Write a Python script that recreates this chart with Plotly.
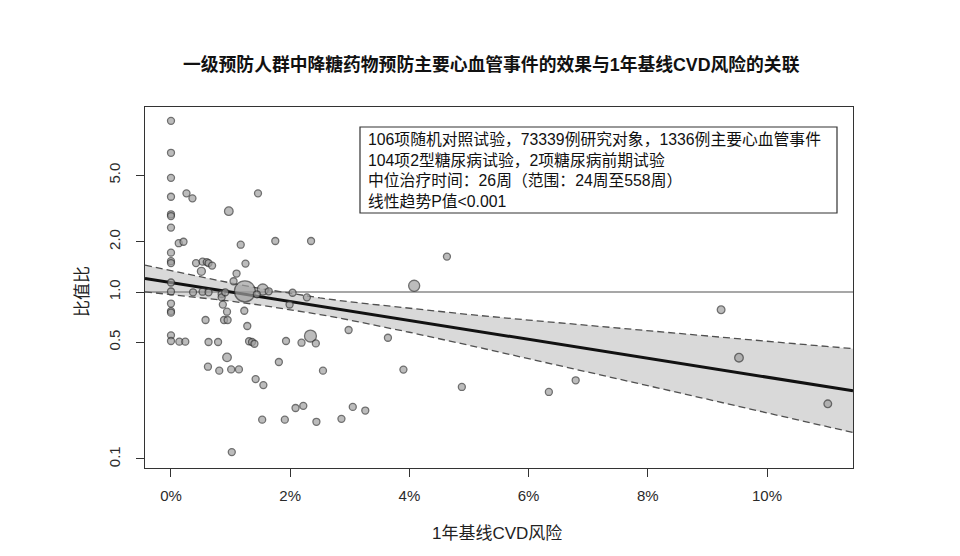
import plotly.graph_objects as go
import numpy as np

# ---- data ----
risk_pct = [0, 0, 0, 0, 0.26, 0.36, 1.46, 0.97, 0, 0, 0, 0.13, 0.21, 1.17, 1.75, 2.35,
            0, 0, 0, 0.42, 0.53, 0.60, 0.63, 0.69, 0.51, 1.25, 1.10, 1.05, 1.24, 1.54,
            0, 0, 0.37, 0.53, 0.63, 0.85, 0.85, 0.91, 1.44, 1.64, 2.04, 2.28,
            0, 0, 0, 0.87, 0.94, 1.23, 0.58, 0.89, 0.95, 1.28, 1.99, 2.98, 2.34, 2.43,
            0, 0, 0.14, 0.24, 0.63, 0.79, 1.31, 1.36, 1.40, 1.93, 2.19, 3.64,
            0.94, 0.62, 0.81, 1.01, 1.14, 1.81, 2.55, 1.42, 1.55, 2.09, 2.22, 3.05, 3.26,
            1.53, 1.91, 2.44, 2.86, 1.02, 3.90, 4.63, 4.08, 4.88, 6.34, 6.79, 9.23, 9.53, 11.02]
odds_ratio = [10.6, 6.82, 4.83, 3.72, 3.90, 3.64, 3.90, 3.05, 2.92, 2.85, 2.43, 1.96, 2.00, 1.92, 2.02, 2.02,
              1.72, 1.53, 1.49, 1.49, 1.52, 1.51, 1.49, 1.44, 1.33, 1.48, 1.29, 1.16, 1.01, 1.035,
              1.14, 1.007, 0.996, 1.004, 0.996, 0.973, 0.929, 0.996, 0.969, 1.01, 0.99, 0.929,
              0.853, 0.769, 0.752, 0.841, 0.762, 0.772, 0.680, 0.680, 0.680, 0.626, 0.842, 0.592, 0.545, 0.492,
              0.550, 0.509, 0.504, 0.504, 0.502, 0.502, 0.507, 0.502, 0.490, 0.509, 0.497, 0.532,
              0.406, 0.357, 0.338, 0.344, 0.344, 0.381, 0.338, 0.301, 0.277, 0.202, 0.208, 0.205, 0.195,
              0.172, 0.172, 0.167, 0.174, 0.110, 0.343, 1.63, 1.09, 0.270, 0.252, 0.296, 0.783, 0.404, 0.214]
trial_weight = [1, 1, 1, 1, 1, 1, 1, 1.5, 1, 1, 1, 1, 1, 1, 1, 1,
                1, 1, 1, 1, 1, 1, 1, 1, 1.3, 1, 1, 1, 9, 2.5,
                1, 1, 1, 1, 1, 1, 1, 1, 1, 1, 1, 1,
                1, 1, 1, 1, 1, 1, 1, 1, 1, 1, 1, 1, 2.9, 1,
                1, 1, 1, 1, 1, 1, 1, 1, 1, 1, 1, 1,
                1.5, 1, 1, 1, 1, 1, 1, 1, 1, 1, 1, 1, 1,
                1, 1, 1, 1, 1, 1, 1, 2.5, 1, 1, 1, 1.2, 1.5, 1.2]

# meta-regression fit (read at the axis edges) and its 95% CI band
fit_x = [-0.436, 11.443]
fit_or = [1.205, 0.256]
ci_x = [-0.436, 0, 0.5, 1, 1.5, 2, 2.5, 3, 4, 5, 6, 7, 8, 9, 10, 11, 11.443]
ci_upper = [1.447, 1.340, 1.230, 1.133, 1.049, 0.980, 0.922, 0.873, 0.796, 0.733,
            0.679, 0.630, 0.586, 0.545, 0.507, 0.472, 0.458]
ci_lower = [1.003, 0.967, 0.925, 0.882, 0.835, 0.786, 0.733, 0.679, 0.574, 0.480,
            0.400, 0.332, 0.275, 0.228, 0.189, 0.156, 0.144]
ref_or = 1.0

x_ticks = [0, 2, 4, 6, 8, 10]
x_tick_labels = ["0%", "2%", "4%", "6%", "8%", "10%"]
y_ticks = [0.1, 0.5, 1.0, 2.0, 5.0]
y_tick_labels = ["0.1", "0.5", "1.0", "2.0", "5.0"]

title_text = "一级预防人群中降糖药物预防主要心血管事件的效果与1年基线CVD风险的关联"
x_label = "1年基线CVD风险"
y_label = "比值比"
info_lines = ["106项随机对照试验，73339例研究对象，1336例主要心血管事件",
              "104项2型糖尿病试验，2项糖尿病前期试验",
              "中位治疗时间：26周（范围：24周至558周）",
              "线性趋势P值<0.001"]

FONT = "Liberation Sans, Arial, Noto Sans CJK SC, sans-serif"
x_range = [fit_x[0], fit_x[1]]
y_range = [-1.054, 1.108]

fig = go.Figure()
# CI band
fig.add_trace(go.Scatter(x=ci_x + ci_x[::-1], y=ci_upper + ci_lower[::-1], fill="toself",
                         fillcolor="#d9d9d9", line=dict(width=0), mode="lines",
                         hoverinfo="skip", showlegend=False))
# reference line at OR = 1
fig.add_trace(go.Scatter(x=x_range, y=[ref_or, ref_or], mode="lines",
                         line=dict(color="#8a8a8a", width=1.6), showlegend=False))
# CI dashed bounds
for arr in (ci_upper, ci_lower):
    fig.add_trace(go.Scatter(x=ci_x, y=arr, mode="lines",
                             line=dict(color="#505050", width=1.3, dash="7px,4px"),
                             showlegend=False))
# fit line
fig.add_trace(go.Scatter(x=fit_x, y=fit_or, mode="lines",
                         line=dict(color="#111111", width=3), showlegend=False))
# trials
sizes = [7 * np.sqrt(w) for w in trial_weight]
fig.add_trace(go.Scatter(x=risk_pct, y=odds_ratio, mode="markers",
                         marker=dict(size=sizes, color="#a0a0a0",
                                     line=dict(color="#333333", width=1.3)),
                         showlegend=False))

# layout geometry (pixels)
L, R, T, B = 145, 853, 107, 468
W, H = 960, 556
def px_x(p):
    return (p - L) / (R - L)
def px_y(p):
    return (B - p) / (B - T)

fig.update_layout(
    width=W, height=H,
    margin=dict(l=L, r=W - R, t=T, b=H - B),
    paper_bgcolor="white", plot_bgcolor="white",
    font=dict(family=FONT, size=15, color="#222222"),
    xaxis=dict(range=x_range, tickvals=x_ticks, ticktext=x_tick_labels,
               showgrid=False, zeroline=False, showline=True, mirror=True,
               linecolor="#333333", linewidth=1.2, ticks="outside", ticklen=8,
               tickcolor="#333333", tickfont=dict(size=15, color="#2a2a2a"),
               ticklabelstandoff=6),
    yaxis=dict(type="log", range=y_range, tickvals=y_ticks, ticktext=y_tick_labels,
               showgrid=False, zeroline=False, showline=True, mirror=True,
               linecolor="#333333", linewidth=1.2, ticks="outside", ticklen=8,
               tickcolor="#333333", tickangle=-90, tickfont=dict(size=15, color="#2a2a2a"),
               ticklabelstandoff=10),
    showlegend=False,
)

# title and axis labels
fig.add_annotation(text="<b>" + title_text + "</b>", xref="paper", yref="paper",
                   x=px_x(491), y=px_y(64), xanchor="center", yanchor="middle",
                   showarrow=False, font=dict(size=17.8, color="#111111", family=FONT))
fig.add_annotation(text=x_label, xref="paper", yref="paper",
                   x=px_x(497), y=px_y(533), xanchor="center", yanchor="middle",
                   showarrow=False, font=dict(size=17, color="#222222", family=FONT))
fig.add_annotation(text=y_label, xref="paper", yref="paper", textangle=-90,
                   x=px_x(82), y=px_y(292), xanchor="center", yanchor="middle",
                   showarrow=False, font=dict(size=17, color="#222222", family=FONT))

# info box
fig.add_shape(type="rect", xref="paper", yref="paper",
              x0=px_x(360), x1=px_x(837), y0=px_y(213), y1=px_y(127),
              line=dict(color="#333333", width=1.2), fillcolor="white", layer="above")
fig.add_annotation(text="<br>".join(info_lines), xref="paper", yref="paper",
                   x=px_x(366), y=px_y(129), xanchor="left", yanchor="top", align="left",
                   showarrow=False, font=dict(size=15.8, color="#111111", family=FONT))

fig.write_html("out.html")
